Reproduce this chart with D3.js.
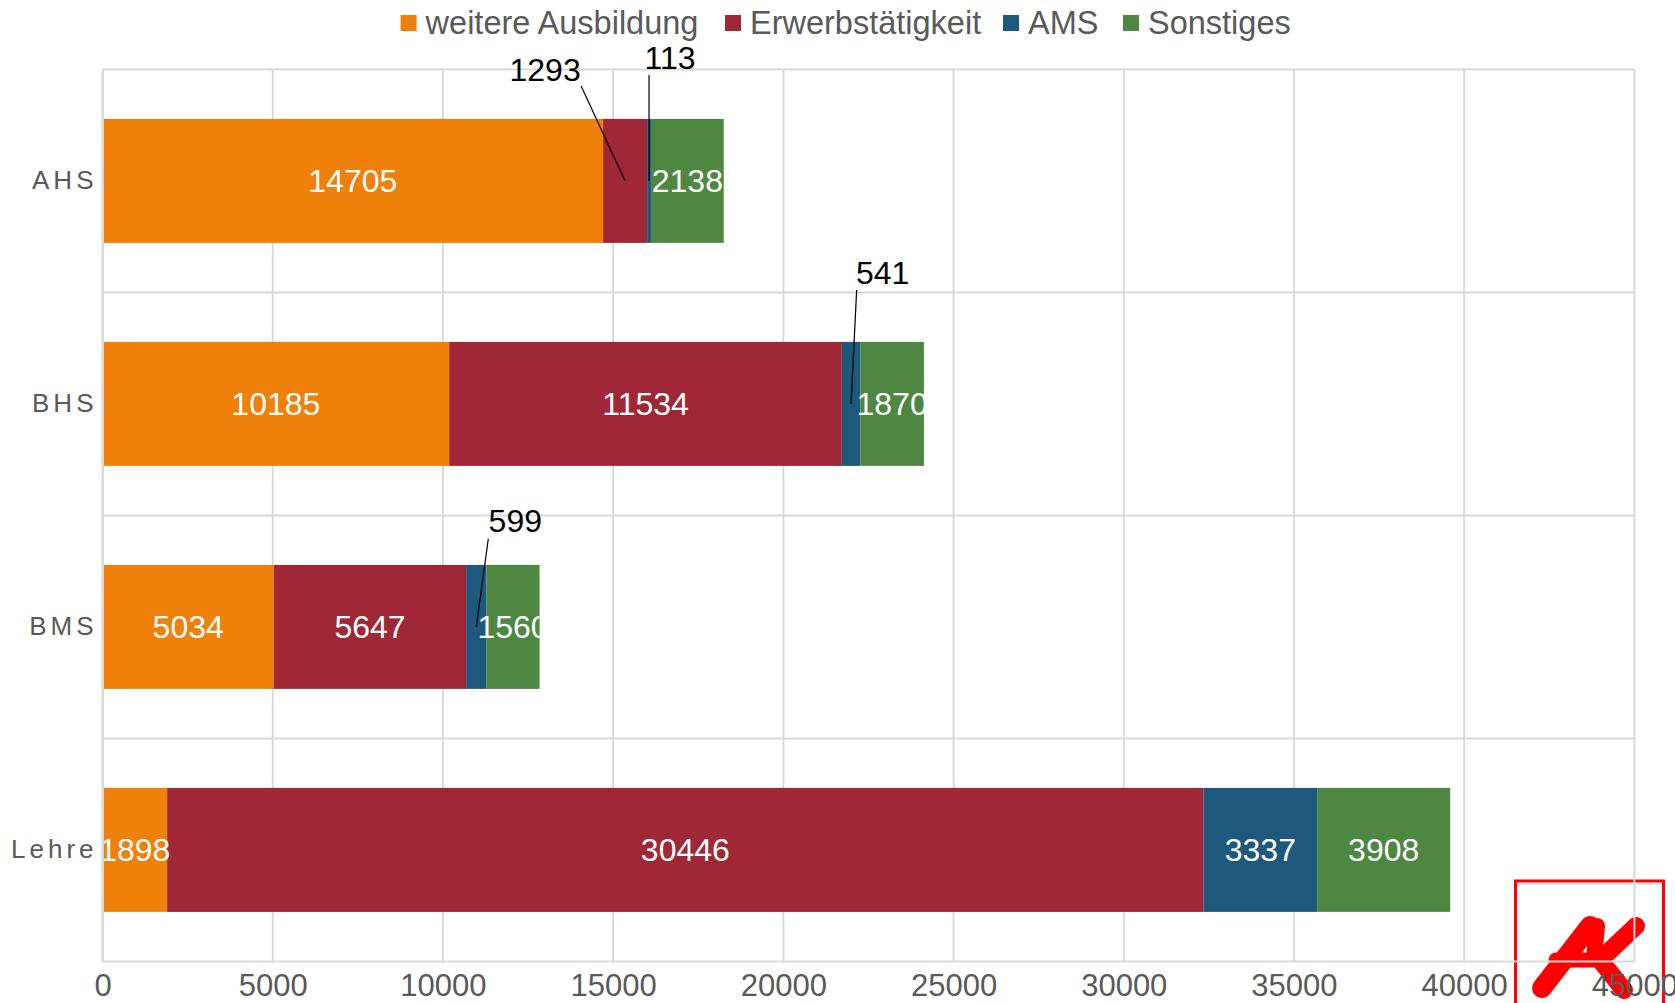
<!DOCTYPE html>
<html>
<head>
<meta charset="utf-8">
<script src="https://cdn.jsdelivr.net/npm/d3@7/dist/d3.min.js"></script>
<style>
  html, body { margin: 0; padding: 0; background: #fff; }
  svg { display: block; font-family: "Liberation Sans", Arial, sans-serif; }
</style>
</head>
<body>
<svg id="chart" width="1675" height="1003"></svg>
<script>
// ---- data ----
const categories = ["AHS", "BHS", "BMS", "Lehre"];
const seriesNames = ["weitere Ausbildung", "Erwerbstätigkeit", "AMS", "Sonstiges"];
const weitereAusbildung = [14705, 10185, 5034, 1898];
const erwerbstaetigkeit = [1293, 11534, 5647, 30446];
const ams = [113, 541, 599, 3337];
const sonstiges = [2138, 1870, 1560, 3908];
const xTicks = [0, 5000, 10000, 15000, 20000, 25000, 30000, 35000, 40000, 45000];

// ---- styling / layout ----
const colors = ["#EF800A", "#A02836", "#1E587C", "#4E8742"];
const plot = { left: 102.5, right: 1634.4, top: 69.4, bottom: 961.4 };
const gridColor = "#d9d9d9";
const textGray = "#595959";

// labels placed outside with leader lines: [category, series index, label dx, label baseline dy, line top dx, line top dy]
const leaders = [
  ["AHS", 1, -80, -100, -44, -95],
  ["AHS", 2, 21, -112, 0, -106],
  ["BHS", 2, 31.6, -120, 5.6, -114],
  ["BMS", 2, 39, -95, 12, -88]
];

const svg = d3.select("#chart");
const x = d3.scaleLinear().domain([0, 45000]).range([plot.left, plot.right]);
const y = d3.scaleBand().domain(categories).range([plot.top, plot.bottom])
  .paddingInner(0.444).paddingOuter(0.222);

const seriesValues = [weitereAusbildung, erwerbstaetigkeit, ams, sonstiges];
const rows = categories.map((c, i) => {
  const r = { cat: c };
  seriesNames.forEach((s, j) => r[s] = seriesValues[j][i]);
  return r;
});
const stacked = d3.stack().keys(seriesNames)(rows);

// ---- AK logo (behind the grid), drawn as a graphic ----
const logo = svg.append("g");
logo.append("rect").attr("x", 1515.5).attr("y", 881).attr("width", 148).attr("height", 140)
  .attr("fill", "#fff").attr("stroke", "#ff0000").attr("stroke-width", 3);
logo.append("rect").attr("x", 1519).attr("y", 884.5).attr("width", 141).attr("height", 133)
  .attr("fill", "none").attr("stroke", "#e8e8e8").attr("stroke-width", 1);
const logoStrokes = [
  ["M1542,988 L1590,926", 20],
  ["M1590,926 L1597,926 L1594,958", 16],
  ["M1556,960 L1600,960", 15],
  ["M1600,960 L1636,926", 18],
  ["M1600,960 L1624,990", 18]
];
logoStrokes.forEach(([d, w]) => {
  logo.append("path").attr("d", d).attr("fill", "none").attr("stroke", "#ff0000")
    .attr("stroke-width", w).attr("stroke-linecap", "round").attr("stroke-linejoin", "round");
});

// ---- grid ----
const grid = svg.append("g");
grid.selectAll("line.v").data(xTicks).join("line")
  .attr("x1", d => x(d)).attr("x2", d => x(d))
  .attr("y1", plot.top).attr("y2", plot.bottom)
  .attr("stroke", gridColor).attr("stroke-width", 2);
const bandEdges = categories.map(c => y(c) - y.step() * y.paddingInner() / 2).concat([plot.bottom]);
grid.selectAll("line.h").data(bandEdges).join("line")
  .attr("x1", plot.left).attr("x2", plot.right)
  .attr("y1", d => d).attr("y2", d => d)
  .attr("stroke", gridColor).attr("stroke-width", 2);

// ---- bars ----
const barG = svg.append("g");
stacked.forEach((layer, j) => {
  barG.selectAll(null).data(layer).join("rect")
    .attr("x", d => x(d[0]))
    .attr("width", d => x(d[1]) - x(d[0]))
    .attr("y", d => y(d.data.cat))
    .attr("height", y.bandwidth())
    .attr("fill", colors[j]);
});

// clip paths per category (labels clipped at bar end)
const defs = svg.append("defs");
rows.forEach((r, i) => {
  const total = d3.sum(seriesNames, s => r[s]);
  defs.append("clipPath").attr("id", "clip" + i)
    .append("rect").attr("x", 0).attr("y", y(r.cat) - 10)
    .attr("width", x(total)).attr("height", y.bandwidth() + 20);
});

// ---- inside labels ----
const isLeader = (cat, j) => leaders.some(l => l[0] === cat && l[1] === j);
stacked.forEach((layer, j) => {
  layer.forEach((d, i) => {
    if (isLeader(d.data.cat, j)) return;
    svg.append("text")
      .attr("clip-path", `url(#clip${i})`)
      .attr("x", x((d[0] + d[1]) / 2))
      .attr("y", y(d.data.cat) + y.bandwidth() / 2)
      .attr("dy", "0.36em")
      .attr("text-anchor", "middle")
      .attr("font-size", 32)
      .attr("fill", "#fff")
      .text(d[1] - d[0]);
  });
});

// ---- leader labels ----
leaders.forEach(([cat, j, tdx, tdy, ldx, ldy]) => {
  const i = categories.indexOf(cat);
  const d = stacked[j][i];
  const ax = x((d[0] + d[1]) / 2);
  const ay = y(cat) + y.bandwidth() / 2;
  svg.append("line").attr("x1", ax).attr("y1", ay).attr("x2", ax + ldx).attr("y2", ay + ldy)
    .attr("stroke", "#000").attr("stroke-width", 1.2);
  svg.append("text").attr("x", ax + tdx).attr("y", ay + tdy)
    .attr("text-anchor", "middle").attr("font-size", 32).attr("fill", "#000")
    .text(d[1] - d[0]);
});

// ---- axes ----
const xAxis = svg.append("g").attr("transform", `translate(0,${plot.bottom})`)
  .call(d3.axisBottom(x).tickValues(xTicks).tickFormat(d3.format("d")).tickSize(0).tickPadding(0));
xAxis.select(".domain").remove();
xAxis.selectAll("text").attr("y", 35).attr("dy", null)
  .attr("font-size", 31).attr("fill", textGray).attr("font-family", "Liberation Sans, Arial, sans-serif");

const yAxis = svg.append("g").attr("transform", `translate(${plot.left},0)`)
  .call(d3.axisLeft(y).tickSize(0).tickPadding(0));
yAxis.select(".domain").attr("stroke", gridColor).attr("stroke-width", 2);
yAxis.selectAll("text").attr("x", -5).attr("dy", "0.33em")
  .attr("font-size", 26).attr("letter-spacing", "4px").attr("fill", textGray)
  .attr("font-family", "Liberation Sans, Arial, sans-serif");

// ---- legend ----
const legendX = [400.6, 725, 1003, 1123];
const legend = svg.append("g");
seriesNames.forEach((s, j) => {
  legend.append("rect").attr("x", legendX[j]).attr("y", 15).attr("width", 16).attr("height", 16)
    .attr("fill", colors[j]);
  legend.append("text").attr("x", legendX[j] + 25).attr("y", 34)
    .attr("font-size", 32.5).attr("fill", textGray).text(s);
});
</script>
</body>
</html>
